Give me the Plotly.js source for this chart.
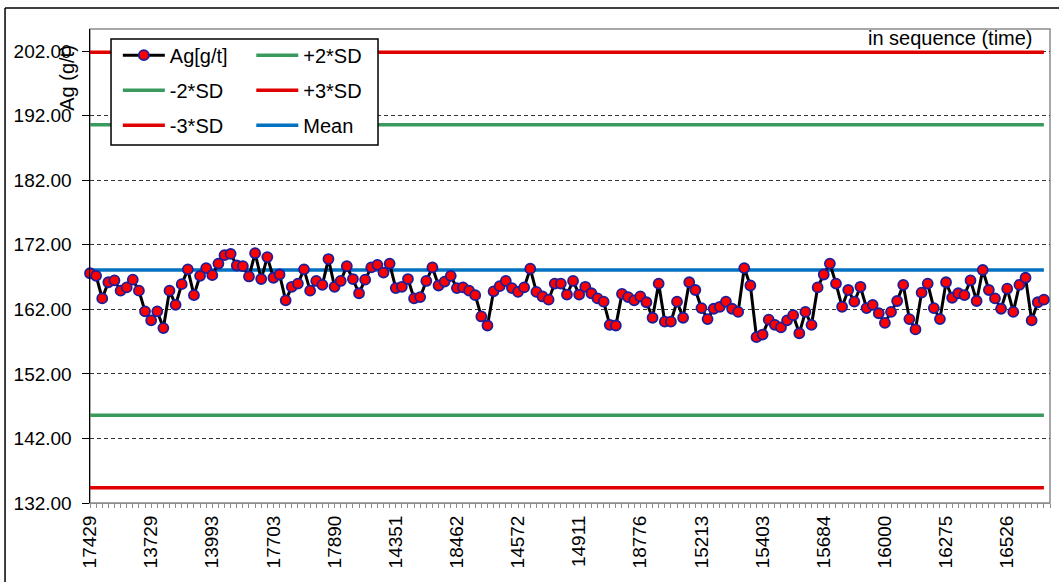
<!DOCTYPE html>
<html>
<head>
<meta charset="utf-8">
<script src="https://cdn.plot.ly/plotly-3.0.1.min.js"></script>
<style>
html, body {margin:0; padding:0; background:#fff;}
#c1 {width:1059px; height:582px;}
</style>
</head>
<body>
<div id="c1"></div>
<script>
// Ag control chart
var ag = [
	167.6, 167.2, 163.7, 166.2, 166.5, 164.9, 165.4, 166.6, 164.9, 161.7,
	160.3, 161.7, 159.1, 164.9, 162.7, 165.9, 168.2, 164.2, 167.2, 168.4,
	167.3, 169.1, 170.4, 170.6, 168.8, 168.7, 167.1, 170.7, 166.7, 170.1,
	166.9, 167.4, 163.4, 165.5, 166.0, 168.2, 164.9, 166.4, 165.8, 169.8,
	165.5, 166.4, 168.7, 166.7, 164.5, 166.6, 168.5, 168.9, 167.7, 169.1,
	165.3, 165.5, 166.7, 163.7, 163.9, 166.4, 168.5, 165.7, 166.3, 167.2,
	165.3, 165.4, 164.9, 164.2, 160.9, 159.5, 164.8, 165.6, 166.4, 165.3,
	164.7, 165.4, 168.3, 164.7, 164.0, 163.5, 166.0, 166.0, 164.3, 166.4,
	164.3, 165.5, 164.5, 163.7, 163.2, 159.6, 159.5, 164.4, 163.9, 163.4,
	164.0, 163.1, 160.7, 166.0, 160.1, 160.1, 163.2, 160.7, 166.2, 165.0,
	162.2, 160.5, 162.1, 162.4, 163.2, 162.1, 161.6, 168.4, 165.7, 157.7,
	158.1, 160.4, 159.6, 159.2, 160.3, 161.1, 158.3, 161.6, 159.6, 165.4,
	167.4, 169.1, 166.0, 162.4, 165.0, 163.2, 165.5, 162.2, 162.7, 161.4,
	159.9, 161.6, 163.3, 165.8, 160.5, 158.9, 164.6, 166.0, 162.2, 160.5,
	166.2, 163.8, 164.5, 164.2, 166.5, 163.3, 168.1, 165.0, 163.7, 162.1,
	165.2, 161.6, 165.8, 166.9, 160.3, 163.1, 163.5
];

// sample ids shown on the axis (every 10th sample)
var labelPos = [0, 10, 20, 30, 40, 50, 60, 70, 80, 90, 100, 110, 120, 130, 140, 150];
var labels = ['17429', '13729', '13993', '17703', '17890', '14351', '18462', '14572',
	'14911', '18776', '15213', '15403', '15684', '16000', '16275', '16526'];

var meanVal = 168.1;
var plus2sd = 190.6;
var minus2sd = 145.6;
var plus3sd = 201.85;
var minus3sd = 134.35;

var fnt = 'Arial, "Liberation Sans", sans-serif';

var xs = [];
for (var i = 0; i < ag.length; i++) {
	xs.push(i);
}

function flat(v) {
	var r = [];
	for (var i = 0; i < ag.length; i++) {
		r.push(v);
	}
	return r;
}

function ctl(name, v, color, leg, rank) {
	return {
		x: xs,
		y: flat(v),
		name: name,
		mode: 'lines',
		type: 'scatter',
		line: {color: color, width: 3.5},
		legend: leg,
		legendgroup: name,
		legendrank: rank,
		hoverinfo: 'skip'
	};
}

var traceAg = {
	x: xs,
	y: ag,
	name: 'Ag[g/t]',
	mode: 'lines+markers',
	type: 'scatter',
	line: {color: '#000000', width: 3},
	marker: {color: '#ff0000', size: 10, line: {color: '#1e1e9a', width: 1.8}},
	cliponaxis: false,
	legend: 'legend',
	legendgroup: 'ag',
	legendrank: 1
};

var data = [
	ctl('+2*SD', plus2sd, '#3a9a5e', 'legend2', 1),
	ctl('-2*SD', minus2sd, '#3a9a5e', 'legend', 2),
	ctl('+3*SD', plus3sd, '#e00000', 'legend2', 2),
	ctl('-3*SD', minus3sd, '#e00000', 'legend', 3),
	ctl('Mean', meanVal, '#0070c0', 'legend2', 3),
	traceAg
];

var layout = {
	width: 1059,
	height: 582,
	margin: {l: 90, r: 9, t: 29, b: 79},
	paper_bgcolor: '#ffffff',
	plot_bgcolor: '#ffffff',
	font: {family: fnt, size: 19, color: '#000000'},
	showlegend: true,
	legend: {
		x: 0.029, y: 0.986, xanchor: 'left', yanchor: 'top',
		bgcolor: 'rgba(0,0,0,0)', borderwidth: 0,
		font: {family: fnt, size: 20, color: '#000000'},
		tracegroupgap: 6, itemwidth: 42, traceorder: 'grouped'
	},
	legend2: {
		x: 0.168, y: 0.986, xanchor: 'left', yanchor: 'top',
		bgcolor: 'rgba(0,0,0,0)', borderwidth: 0,
		font: {family: fnt, size: 20, color: '#000000'},
		tracegroupgap: 6, itemwidth: 42, traceorder: 'grouped'
	},
	xaxis: {
		range: [0, 157],
		tickmode: 'array',
		tickvals: labelPos,
		ticktext: labels,
		tickangle: -90,
		ticks: 'outside',
		ticklen: 4,
		tickcolor: '#8c8c8c',
		minor: {dtick: 1, tick0: 0, ticks: 'outside', ticklen: 4, tickcolor: '#8c8c8c', showgrid: false},
		showgrid: false,
		zeroline: false,
		showline: true,
		linecolor: '#8c8c8c',
		linewidth: 1,
		tickfont: {family: fnt, size: 19, color: '#000000'},
		automargin: false
	},
	yaxis: {
		range: [132, 205.44],
		tick0: 132,
		dtick: 10,
		tickformat: '.2f',
		ticks: 'outside',
		ticklen: 7,
		tickcolor: '#000000',
		ticklabelstandoff: 6,
		showgrid: true,
		gridcolor: '#333333',
		gridwidth: 1,
		griddash: '4px,3px',
		zeroline: false,
		showline: true,
		linecolor: '#000000',
		linewidth: 1.5,
		tickfont: {family: fnt, size: 19, color: '#000000'},
		automargin: false
	},
	shapes: [
		// plot area frame
		{type: 'rect', xref: 'paper', yref: 'paper', x0: 0, x1: 1, y0: 0, y1: 1,
			line: {color: '#8c8c8c', width: 1.5}, layer: 'below'},
		// legend box
		{type: 'rect', xref: 'paper', yref: 'paper', x0: 0.0219, x1: 0.3, y0: 0.7553, y1: 0.9789,
			fillcolor: '#ffffff', line: {color: '#000000', width: 1.5}, layer: 'above'},
		// chart border (left and top)
		{type: 'line', xref: 'paper', yref: 'paper', x0: -0.0885, x1: -0.0885, y0: -0.2, y1: 1.0443,
			line: {color: '#000000', width: 1.5}},
		{type: 'line', xref: 'paper', yref: 'paper', x0: -0.0885, x1: 1.05, y0: 1.0443, y1: 1.0443,
			line: {color: '#000000', width: 1.5}}
	],
	annotations: [
		{text: 'Ag (g/t)', xref: 'paper', yref: 'paper', x: -0.024, y: 0.897,
			textangle: -90, showarrow: false, xanchor: 'center', yanchor: 'middle',
			font: {family: fnt, size: 20, color: '#000000'}},
		{text: 'in sequence (time)', xref: 'paper', yref: 'paper', x: 0.984, y: 0.981,
			showarrow: false, xanchor: 'right', yanchor: 'middle',
			font: {family: fnt, size: 20, color: '#000000'}}
	]
};

Plotly.newPlot('c1', data, layout, {displayModeBar: false, staticPlot: true});
</script>
</body>
</html>
